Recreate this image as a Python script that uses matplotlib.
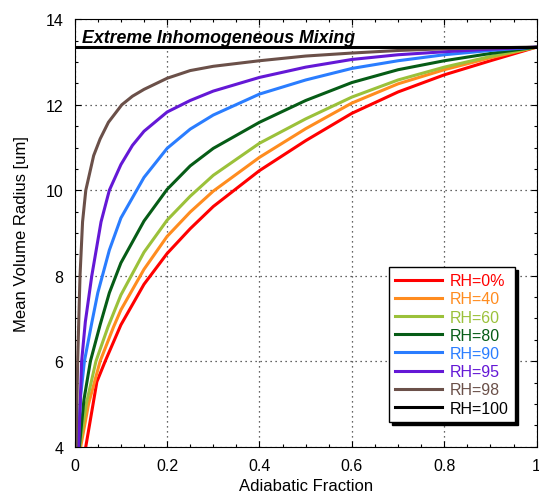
"""Mean volume radius vs adiabatic fraction, extreme inhomogeneous mixing."""

import matplotlib
matplotlib.use('Agg')
import matplotlib.pyplot as plt
from matplotlib.ticker import MultipleLocator

plt.rcParams['font.family'] = ['Liberation Sans', 'DejaVu Sans']

# values
labels = ['RH=0%', 'RH=40', 'RH=60', 'RH=80', 'RH=90', 'RH=95', 'RH=98', 'RH=100']
colors = ['#ff0000', '#ff8c1f', '#9bc13a', '#065c16', '#2a7dff', '#6418d6', '#6b5049', '#000000']

rh0_x = [0.024, 0.048, 0.066, 0.1, 0.15, 0.2, 0.25, 0.3, 0.4, 0.5, 0.6, 0.7, 0.8, 0.9, 1.0]
rh0_y = [4.0, 5.52, 6.0, 6.85, 7.8, 8.52, 9.1, 9.62, 10.46, 11.16, 11.8, 12.3, 12.7, 13.03, 13.35]

rh40_x = [0.013, 0.03, 0.055, 0.084, 0.1, 0.15, 0.2, 0.25, 0.3, 0.4, 0.5, 0.6, 0.7, 0.8, 0.9, 1.0]
rh40_y = [4.0, 5.0, 6.0, 6.8, 7.2, 8.15, 8.92, 9.49, 9.98, 10.77, 11.44, 12.04, 12.49, 12.82, 13.1, 13.35]

rh60_x = [0.011, 0.025, 0.046, 0.072, 0.1, 0.15, 0.2, 0.25, 0.3, 0.4, 0.5, 0.6, 0.7, 0.8, 0.9, 1.0]
rh60_y = [4.0, 5.0, 6.0, 6.8, 7.55, 8.55, 9.3, 9.86, 10.35, 11.1, 11.67, 12.18, 12.58, 12.88, 13.13, 13.35]

rh80_x = [0.01, 0.02, 0.034, 0.055, 0.075, 0.1, 0.15, 0.2, 0.25, 0.3, 0.4, 0.5, 0.6, 0.7, 0.8, 0.9, 1.0]
rh80_y = [4.0, 5.1, 6.0, 6.85, 7.6, 8.3, 9.28, 10.02, 10.57, 10.98, 11.59, 12.1, 12.52, 12.82, 13.03, 13.2, 13.35]

rh90_x = [0.007, 0.013, 0.021, 0.037, 0.05, 0.075, 0.1, 0.15, 0.2, 0.25, 0.3, 0.4, 0.5, 0.6, 0.7, 0.8, 0.9, 1.0]
rh90_y = [4.0, 5.2, 6.0, 6.9, 7.6, 8.6, 9.35, 10.3, 10.98, 11.43, 11.76, 12.25, 12.58, 12.85, 13.03, 13.17, 13.27, 13.35]

rh95_x = [0.0086, 0.015, 0.023, 0.037, 0.057, 0.075, 0.1, 0.125, 0.15, 0.2, 0.25, 0.3, 0.4, 0.5, 0.6, 0.7, 0.8, 0.9, 1.0]
rh95_y = [4.0, 6.0, 6.92, 8.0, 9.26, 10.0, 10.6, 11.05, 11.38, 11.83, 12.1, 12.32, 12.64, 12.88, 13.06, 13.17, 13.24, 13.3, 13.35]

rh98_x = [0.003, 0.0064, 0.0115, 0.017, 0.024, 0.041, 0.055, 0.073, 0.102, 0.125, 0.15, 0.2, 0.25, 0.3, 0.4, 0.5, 0.6, 0.7, 0.8, 0.9, 1.0]
rh98_y = [4.0, 6.0, 8.0, 9.26, 10.0, 10.81, 11.2, 11.59, 12.0, 12.2, 12.36, 12.62, 12.8, 12.9, 13.03, 13.14, 13.21, 13.27, 13.31, 13.33, 13.35]

rh100_x = [0.0, 1.0]
rh100_y = [13.35, 13.35]

series = [(rh0_x, rh0_y), (rh40_x, rh40_y), (rh60_x, rh60_y), (rh80_x, rh80_y),
          (rh90_x, rh90_y), (rh95_x, rh95_y), (rh98_x, rh98_y), (rh100_x, rh100_y)]


def main():
  fig = plt.figure(figsize=(5.39, 5.02), dpi=100)
  ax = fig.add_axes([0.1386, 0.1082, 0.8571, 0.8514])

  for (xs, ys), lab, col in zip(series, labels, colors):
    ax.plot(xs, ys, color=col, lw=2.2, label=lab, solid_joinstyle='round')

  ax.set_xlim(0, 1)
  ax.set_ylim(4, 14)
  ax.xaxis.set_minor_locator(MultipleLocator(0.05))
  ax.yaxis.set_major_locator(MultipleLocator(2))
  ax.yaxis.set_minor_locator(MultipleLocator(0.5))
  ax.set_xticks([0, 0.2, 0.4, 0.6, 0.8, 1])
  ax.set_xticklabels(['0', '0.2', '0.4', '0.6', '0.8', '1'])
  ax.tick_params(which='both', direction='in', top=True, right=True, labelsize=11.5, pad=8)
  ax.tick_params(which='major', length=4.5, width=0.8)
  ax.tick_params(which='minor', length=2.5, width=0.8)
  ax.grid(True, which='major', linestyle=(0, (1, 3)), color='#333333', lw=0.9)

  ax.set_xlabel('Adiabatic Fraction', fontsize=12, labelpad=4)
  ax.set_ylabel('Mean Volume Radius [um]', fontsize=12, labelpad=12)
  ax.text(0.015, 0.978, 'Extreme Inhomogeneous Mixing', transform=ax.transAxes,
          fontsize=12.8, fontweight='bold', fontstyle='italic', va='top', ha='left')

  leg = ax.legend(loc='lower right', bbox_to_anchor=(0.953, 0.058), borderaxespad=0,
                  fontsize=11.5, handlelength=2.9, handletextpad=0.5, labelspacing=0.2,
                  fancybox=False, framealpha=1, edgecolor='black',
                  shadow={'color': 'black', 'alpha': 1})
  leg.get_frame().set_linewidth(1.0)
  for text, col in zip(leg.get_texts(), colors):
    text.set_color(col)

  fig.savefig('out.png', dpi=100)


if __name__ == "__main__":
  main()
